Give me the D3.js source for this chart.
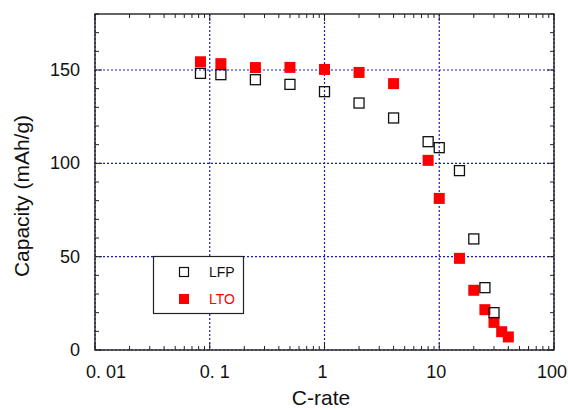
<!DOCTYPE html>
<html>
<head>
<meta charset="utf-8">
<script src="https://cdn.jsdelivr.net/npm/d3@7"></script>
<style>
  html, body { margin: 0; padding: 0; background: #fff; }
  svg { display: block; font-family: "Liberation Sans", Arial, sans-serif; }
</style>
</head>
<body>
<svg id="chart" width="568" height="410"></svg>
<script>
// ---- data ----
const lfpRate = [0.083, 0.125, 0.25, 0.5, 1, 2, 4, 8, 10, 15, 20, 25, 30];
const lfpCap  = [148.2, 147.5, 144.8, 142.3, 138.4, 132.3, 124.3, 111.6, 108.4, 96.1, 59.5, 33.4, 20.0];
const ltoRate = [0.083, 0.125, 0.25, 0.5, 1, 2, 4, 8, 10, 15, 20, 25, 30, 35, 40];
const ltoCap  = [154.4, 153.4, 151.3, 151.4, 150.3, 148.7, 142.7, 101.6, 81.2, 49.1, 32.0, 21.6, 14.8, 9.8, 7.0];
const xTickValues = [0.01, 0.1, 1, 10, 100];
const xTickLabels = ["0. 01", "0. 1", "1", "10", "100"];
const yTickValues = [0, 50, 100, 150];
const seriesNames = ["LFP", "LTO"];

// ---- layout ----
const svg = d3.select("#chart");
const L = 95, R = 554, T = 14, B = 350;
const x = d3.scaleLog().domain([0.01, 100]).range([L, R]);
const y = d3.scaleLinear().domain([0, 180]).range([B, T]);

// grid (blue dotted)
const grid = svg.append("g").attr("stroke", "#1a1acc").attr("stroke-width", 1.2)
  .attr("stroke-dasharray", "2,2");
xTickValues.forEach(v => grid.append("line")
  .attr("x1", x(v)).attr("x2", x(v)).attr("y1", T).attr("y2", B));
yTickValues.forEach(v => grid.append("line")
  .attr("x1", L).attr("x2", R).attr("y1", y(v)).attr("y2", y(v)));

// frame
svg.append("rect").attr("x", L).attr("y", T).attr("width", R - L).attr("height", B - T)
  .attr("fill", "none").attr("stroke", "#222").attr("stroke-width", 1.4);

// ticks
const minorX = [];
for (let d = 0.01; d < 100; d *= 10) for (let k = 2; k <= 9; k++) minorX.push(+(d * k).toPrecision(3));
const minorY = d3.range(0, 181, 10).filter(v => v % 50 !== 0);
const tk = svg.append("g").attr("stroke", "#222").attr("stroke-width", 1);
minorX.forEach(v => {
  tk.append("line").attr("x1", x(v)).attr("x2", x(v)).attr("y1", B).attr("y2", B - 4);
  tk.append("line").attr("x1", x(v)).attr("x2", x(v)).attr("y1", T).attr("y2", T + 4);
});
xTickValues.forEach(v => {
  tk.append("line").attr("x1", x(v)).attr("x2", x(v)).attr("y1", B).attr("y2", B - 7);
  tk.append("line").attr("x1", x(v)).attr("x2", x(v)).attr("y1", T).attr("y2", T + 7);
});
minorY.forEach(v => {
  tk.append("line").attr("x1", L).attr("x2", L + 4).attr("y1", y(v)).attr("y2", y(v));
  tk.append("line").attr("x1", R).attr("x2", R - 4).attr("y1", y(v)).attr("y2", y(v));
});
yTickValues.forEach(v => {
  tk.append("line").attr("x1", L).attr("x2", L + 7).attr("y1", y(v)).attr("y2", y(v));
  tk.append("line").attr("x1", R).attr("x2", R - 7).attr("y1", y(v)).attr("y2", y(v));
});

// tick labels
const xLabelShift = [11, 5, -2, -3, -2];
xTickValues.forEach((v, i) => svg.append("text")
  .attr("x", x(v) + xLabelShift[i]).attr("y", 378)
  .attr("text-anchor", "middle").attr("font-size", 18).attr("fill", "#111")
  .text(xTickLabels[i]));
yTickValues.forEach(v => svg.append("text")
  .attr("x", 80).attr("y", y(v) + 6)
  .attr("text-anchor", "end").attr("font-size", 18).attr("fill", "#111")
  .text(v));

// axis titles
svg.append("text").attr("x", 321).attr("y", 405).attr("text-anchor", "middle")
  .attr("font-size", 21).attr("fill", "#111").text("C-rate");
svg.append("text").attr("transform", "translate(29,196) rotate(-90)")
  .attr("text-anchor", "middle").attr("font-size", 21).attr("fill", "#111")
  .text("Capacity (mAh/g)");

// markers
const S = 10;
const lfp = lfpRate.map((r, i) => ({ r, c: lfpCap[i] }));
const lto = ltoRate.map((r, i) => ({ r, c: ltoCap[i] }));
svg.append("g").selectAll("rect").data(lto).join("rect")
  .attr("x", d => x(d.r) - (S + 1) / 2).attr("y", d => y(d.c) - (S + 1) / 2)
  .attr("width", S + 1).attr("height", S + 1)
  .attr("fill", "#ff0000");
svg.append("g").selectAll("rect").data(lfp).join("rect")
  .attr("x", d => x(d.r) - S / 2).attr("y", d => y(d.c) - S / 2)
  .attr("width", S).attr("height", S)
  .attr("fill", "none").attr("stroke", "#111").attr("stroke-width", 1.3);

// legend
const lg = svg.append("g");
lg.append("rect").attr("x", 153.5).attr("y", 256.5).attr("width", 90).attr("height", 57)
  .attr("fill", "#fff").attr("stroke", "#222").attr("stroke-width", 1.2);
lg.append("rect").attr("x", 184 - 4.5).attr("y", 272 - 4.5).attr("width", 9).attr("height", 9)
  .attr("fill", "#fff").attr("stroke", "#111").attr("stroke-width", 1.2);
lg.append("rect").attr("x", 184 - 5).attr("y", 299 - 5).attr("width", 10).attr("height", 10)
  .attr("fill", "#ff0000");
lg.append("text").attr("x", 209).attr("y", 277).attr("font-size", 14).attr("fill", "#111").text(seriesNames[0]);
lg.append("text").attr("x", 209).attr("y", 304).attr("font-size", 14).attr("fill", "#ff0000").text(seriesNames[1]);
</script>
</body>
</html>
